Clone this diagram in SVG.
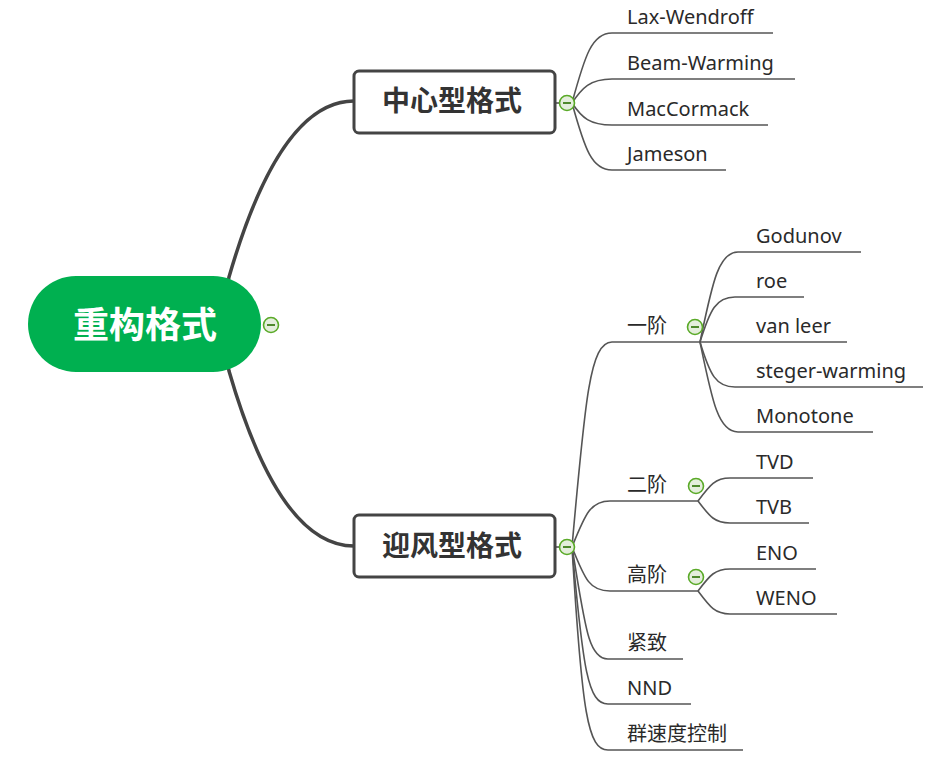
<svg xmlns="http://www.w3.org/2000/svg" width="945" height="761" viewBox="0 0 945 761">
<defs>
<style>
.thick{fill:none;stroke:#444;stroke-width:3.5;stroke-linecap:round}
.thin{fill:none;stroke:#555;stroke-width:1.6}
.box{fill:#fff;stroke:#444;stroke-width:3}
.lbl{font-family:"Noto Sans","Noto Sans CJK SC",sans-serif;font-size:20px;fill:#2a2a2a}
.big{font-family:"Noto Sans CJK SC","Noto Sans",sans-serif;font-size:28px;font-weight:bold;fill:#333;text-anchor:middle}
.root{font-family:"Noto Sans CJK SC","Noto Sans",sans-serif;font-size:36px;font-weight:bold;fill:#fff;text-anchor:middle}
.btn circle{fill:#e4eedc;stroke:#5aaa28;stroke-width:1.6}
.btn line{stroke:#3d7d18;stroke-width:1.8}
</style>
<g id="collapse" class="btn"><circle cx="0" cy="0" r="7.5"/><line x1="-4" y1="0" x2="4" y2="0"/></g>
</defs>
<rect width="945" height="761" fill="#fff"/>
<g id="connectors">
<path class="thick" d="M225,300 L229,277 C260,170 300,101 354,101"/>
<path class="thick" d="M225,350 L229,371 C260,478 300,546 354,546"/>
<line class="thin" x1="555" y1="103" x2="562" y2="103"/>
<line class="thin" x1="555" y1="547" x2="562" y2="547"/>
<path class="thin" d="M572,103 C585,55 592,33 612,33 L773,33"/>
<path class="thin" d="M572,103 C582,88 590,79 612,79 L795,79"/>
<path class="thin" d="M572,103 C582,118 590,125 612,125 L768,125"/>
<path class="thin" d="M572,103 C585,150 592,170 612,170 L726,170"/>
<path class="thin" d="M572,547 C585,400 590,342 612,342 L700,342"/>
<path class="thin" d="M572,547 C585,515 590,501 610,501 L698,501"/>
<path class="thin" d="M572,547 C585,580 590,591 610,591 L698,591"/>
<path class="thin" d="M572,547 C585,625 588,659 608,659 L683,659"/>
<path class="thin" d="M572,547 C583,670 588,704 608,704 L691,704"/>
<path class="thin" d="M572,547 C582,715 588,750 608,750 L743,750"/>
<path class="thin" d="M700,342 C712,285 718,252 738,252 L861,252"/>
<path class="thin" d="M700,342 C710,310 716,297 735,297 L804,297"/>
<path class="thin" d="M700,342 L847,342"/>
<path class="thin" d="M700,342 C710,375 716,387 735,387 L923,387"/>
<path class="thin" d="M700,342 C712,400 718,432 738,432 L873,432"/>
<path class="thin" d="M698,501 C710,485 715,478 730,478 L813,478"/>
<path class="thin" d="M698,501 C710,517 715,523 730,523 L809,523"/>
<path class="thin" d="M698,591 C710,575 715,569 730,569 L816,569"/>
<path class="thin" d="M698,591 C710,607 715,614 730,614 L837,614"/>
</g>
<g id="root">
<rect x="28" y="276" width="233" height="96" rx="48" fill="#00b050"/>
<text class="root" x="145" y="338">重构格式</text>
<use href="#collapse" x="271" y="325"/>
</g>
<g id="central">
<rect class="box" x="354" y="71" width="201" height="62" rx="5"/>
<text class="big" x="452" y="111">中心型格式</text>
<use href="#collapse" x="567" y="103"/>
</g>
<g id="upwind">
<rect class="box" x="354" y="515" width="201" height="62" rx="5"/>
<text class="big" x="452" y="556">迎风型格式</text>
<use href="#collapse" x="567" y="547"/>
</g>
<g id="lax-wendroff"><text class="lbl" x="627" y="24">Lax-Wendroff</text></g>
<g id="beam-warming"><text class="lbl" x="627" y="70">Beam-Warming</text></g>
<g id="maccormack"><text class="lbl" x="627" y="116">MacCormack</text></g>
<g id="jameson"><text class="lbl" x="627" y="161">Jameson</text></g>
<g id="first-order"><text class="lbl" x="627" y="333">一阶</text><use href="#collapse" x="695" y="327"/></g>
<g id="second-order"><text class="lbl" x="627" y="492">二阶</text><use href="#collapse" x="696" y="486"/></g>
<g id="high-order"><text class="lbl" x="627" y="582">高阶</text><use href="#collapse" x="696" y="577"/></g>
<g id="compact"><text class="lbl" x="627" y="650">紧致</text></g>
<g id="nnd"><text class="lbl" x="627" y="695">NND</text></g>
<g id="group-velocity"><text class="lbl" x="627" y="741">群速度控制</text></g>
<g id="godunov"><text class="lbl" x="756" y="243">Godunov</text></g>
<g id="roe"><text class="lbl" x="756" y="288">roe</text></g>
<g id="van-leer"><text class="lbl" x="756" y="333">van leer</text></g>
<g id="steger-warming"><text class="lbl" x="756" y="378">steger-warming</text></g>
<g id="monotone"><text class="lbl" x="756" y="423">Monotone</text></g>
<g id="tvd"><text class="lbl" x="756" y="469">TVD</text></g>
<g id="tvb"><text class="lbl" x="756" y="514">TVB</text></g>
<g id="eno"><text class="lbl" x="756" y="560">ENO</text></g>
<g id="weno"><text class="lbl" x="756" y="605">WENO</text></g>
</svg>
